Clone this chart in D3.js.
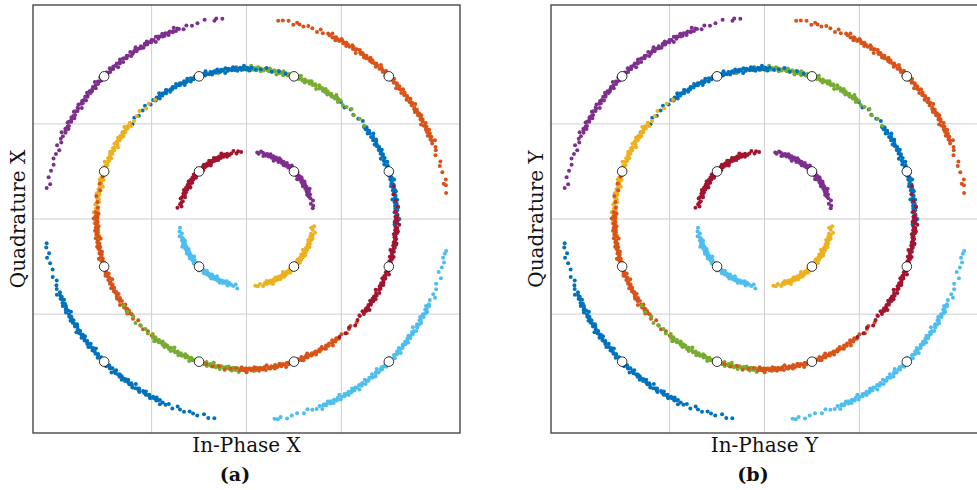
<!DOCTYPE html>
<html>
<head>
<meta charset="utf-8">
<script src="https://cdn.jsdelivr.net/npm/d3@7"></script>
<style>
  body { margin: 0; background: #fff; }
  svg { display: block; }
</style>
</head>
<body>
<svg id="fig" width="977" height="490"></svg>
<script>
// Ideal 16-QAM constellation points (in-phase, quadrature)
const symbolI = [-1.5, 1.5, -1.5, 1.5,  1.5, 0.5, -0.5, -1.5, -1.5, -0.5, 0.5, 1.5,  -0.5, 0.5, -0.5, 0.5];
const symbolQ = [ 1.5, 1.5, -1.5, -1.5,  0.5, 1.5, 1.5, 0.5, -0.5, -1.5, -1.5, -0.5,  0.5, 0.5, -0.5, -0.5];

// Phase error of every received sample, per transmitted symbol (tenths of a degree)
const phOuterNW = [-381,-364,-358,-331,-309,-292,-277,-266,
  -254,-250,-244,-241,-236,-234,-227,-223,-220,-214,-209,-205,-203,-197,-192,-189,-185,-178,-175,-170,-166,
  -162,-156,-153,-148,-146,-139,-135,-132,-126,-121,-117,-115,-109,-104,-101,-97,-90,-87,-82,-78,
  -74,-68,-65,-60,-58,-51,-47,-44,-38,-33,-29,-27,-21,-16,-13,-9,-2,1,6,10,
  14,20,23,28,30,37,41,44,50,55,59,61,67,72,75,79,86,89,94,98,
  102,108,111,116,118,125,129,132,138,143,147,149,155,160,163,167,174,177,182,186,190,196,199,
  208,217,226,238,249,262,276,293,312,331,350,362];
const phOuterNE = [-376,-354,-349,-338,-316,-297,-285,-264,-251,-242,
  -229,-224,-221,-217,-211,-209,-204,-200,-193,-190,-186,-181,-179,-173,-169,-166,-161,-155,-153,-149,-144,
  -139,-136,-132,-126,-124,-119,-115,-108,-105,-101,-96,-94,-88,-84,-81,-76,-70,-68,-64,-59,
  -54,-51,-47,-41,-39,-34,-30,-23,-20,-16,-11,-9,-3,1,4,9,15,17,21,26,
  31,34,38,44,46,51,55,62,65,69,74,76,82,86,89,94,100,102,106,111,
  116,119,123,129,131,136,140,147,150,154,159,161,167,171,174,179,185,187,191,196,201,206,212,
  226,236,243,259,272,285,297,305,314,330,346,359];
const phOuterSW = [-381,-369,-352,-340,-323,-304,-284,-271,-258,-248,
  -236,-233,-228,-222,-218,-216,-212,-205,-200,-197,-193,-187,-184,-179,-177,-172,-168,-162,-159,-155,-150,
  -147,-142,-136,-132,-130,-126,-119,-114,-111,-107,-101,-98,-93,-91,-86,-82,-76,-73,-69,-64,
  -61,-56,-50,-46,-44,-40,-33,-28,-25,-21,-15,-12,-7,-5,0,4,10,13,17,22,
  25,30,36,40,42,46,53,58,61,65,71,74,79,81,86,90,96,99,103,108,
  111,116,122,126,128,132,139,144,147,151,157,160,165,167,172,176,182,185,189,194,199,204,
  214,222,236,248,257,270,285,296,309,327,341,358];
const phOuterSE = [-370,-361,-352,-335,-320,-304,-285,-272,-259,-247,
  -236,-232,-226,-223,-218,-216,-209,-205,-202,-196,-191,-187,-185,-179,-174,-171,-167,-160,-157,-152,-148,
  -144,-138,-135,-130,-128,-121,-117,-114,-108,-103,-99,-97,-91,-86,-83,-79,-72,-69,-64,-60,
  -56,-50,-47,-42,-40,-33,-29,-26,-20,-15,-11,-9,-3,2,5,9,16,19,24,28,
  32,38,41,46,48,55,59,62,68,73,77,79,85,90,93,97,104,107,112,116,
  120,126,129,134,136,143,147,150,156,161,165,167,173,178,181,185,192,195,200,
  212,224,231,247,262,281,296,311,326,339,351,359];

const phMidA = [-350,-331,-308,-282,-264,-241,-223,
  -206,-200,-196,-189,-184,-181,-175,-167,-163,-158,-151,-145,-141,-134,-129,-126,-120,-112,-108,-103,-96,
  -90,-86,-79,-74,-71,-65,-57,-53,-48,-41,-35,-31,-24,-19,-16,-10,-2,2,7,14,
  20,24,31,36,39,45,53,57,62,69,75,79,86,91,94,100,108,112,117,124,
  130,134,141,146,149,155,163,167,172,179,185,189,196,
  216,234,258,279,302,326,344,366];
const phMidB = [-332,-301,-276,-253,-234,-218,
  -201,-196,-189,-185,-179,-176,-171,-163,-157,-153,-146,-141,-134,-130,-124,-121,-116,-108,-102,-98,-91,
  -86,-79,-75,-69,-66,-61,-53,-47,-43,-36,-31,-24,-20,-14,-11,-6,2,8,12,19,
  24,31,35,41,44,49,57,63,67,74,79,86,90,96,99,104,112,118,122,129,
  134,141,145,151,154,159,167,173,177,184,189,196,200,206,
  223,239,257,274,294,318];
const phMidC = [-335,-309,-282,-260,-239,-220,
  -204,-197,-194,-188,-183,-175,-171,-166,-160,-156,-149,-142,-139,-133,-128,-120,-116,-111,-105,-101,-94,
  -87,-84,-78,-73,-65,-61,-56,-50,-46,-39,-32,-29,-23,-18,-10,-6,-1,5,9,16,
  23,26,32,37,45,49,54,60,64,71,78,81,87,92,100,104,109,115,119,126,
  133,136,142,147,155,159,164,170,174,181,188,191,197,
  216,235,254,278,296,319,342,367];
const phMidD = [-340,-312,-293,-268,-246,-226,
  -210,-204,-200,-193,-188,-185,-179,-171,-167,-162,-155,-149,-145,-138,-133,-130,-124,-116,-112,-107,-100,
  -94,-90,-83,-78,-75,-69,-61,-57,-52,-45,-39,-35,-28,-23,-20,-14,-6,-2,3,10,
  16,20,27,32,35,41,49,53,58,65,71,75,82,87,90,96,104,108,113,120,
  126,130,137,142,145,151,159,163,168,175,181,185,192,197,200,206,214,
  230,248,266,283,294,316,338];
const phMidE = [-348,-320,-295,-271,-249,-228,
  -211,-206,-199,-195,-189,-186,-181,-173,-167,-163,-156,-151,-144,-140,-134,-131,-126,-118,-112,-108,-101,
  -96,-89,-85,-79,-76,-71,-63,-57,-53,-46,-41,-34,-30,-24,-21,-16,-8,-2,2,9,
  14,21,25,31,34,39,47,53,57,64,69,76,80,86,89,94,102,108,112,119,
  124,131,135,141,144,149,157,163,167,174,179,186,190,196,199,204,212,
  228,246,265,283,302,324,346];
const phMidF = [-364,-336,-309,-285,-263,-242,-224,
  -208,-201,-198,-192,-187,-179,-175,-170,-164,-160,-153,-146,-143,-137,-132,-124,-120,-115,-109,-105,-98,
  -91,-88,-82,-77,-69,-65,-60,-54,-50,-43,-36,-33,-27,-22,-14,-10,-5,1,5,12,
  19,22,28,33,41,45,50,56,60,67,74,77,83,88,96,100,105,111,115,122,
  129,132,138,143,151,155,160,166,170,177,184,187,193,
  212,230,251,272,296,320];
const phMidG = [-339,-314,-290,-267,-245,-226,
  -209,-203,-199,-192,-187,-184,-178,-170,-166,-161,-154,-148,-144,-137,-132,-129,-123,-115,-111,-106,-99,
  -93,-89,-82,-77,-74,-68,-60,-56,-51,-44,-38,-34,-27,-22,-19,-13,-5,-1,4,11,
  17,21,28,33,36,42,50,54,59,66,72,76,83,88,91,97,105,109,114,121,
  127,131,138,143,146,152,160,164,169,176,182,186,193,
  211,229,246,258,284,312];
const phMidH = [-333,-306,-281,-259,-238,-221,
  -205,-200,-193,-189,-183,-180,-175,-167,-161,-157,-150,-145,-138,-134,-128,-125,-120,-112,-106,-102,-95,
  -90,-83,-79,-73,-70,-65,-57,-51,-47,-40,-35,-28,-24,-18,-15,-10,-2,4,8,15,
  20,27,31,37,40,45,53,59,63,70,75,82,86,92,95,100,108,114,118,125,
  130,137,141,147,150,155,163,169,173,180,185,192,196,
  212,231,254,280,309];

const phInnerNW = [-404,-379,-363,-341,-318,-300,
  -284,-276,-265,-258,-248,-239,-227,-221,-212,-202,-194,-186,-175,-168,-158,-149,-137,-131,-122,-112,-104,
  -96,-85,-78,-68,-59,-47,-41,-32,-22,-14,-6,5,12,22,31,43,49,58,68,76,
  84,95,102,112,121,133,139,148,158,166,174,185,192,202,211,223,229,238,248,256,264,
  278,294,310,326,342,358];
const phInnerNE = [-358,-339,-316,-295,-271,
  -250,-240,-233,-224,-212,-204,-195,-184,-178,-168,-160,-150,-143,-134,-122,-114,-105,-94,-88,-78,-70,
  -60,-53,-44,-32,-24,-15,-4,2,12,20,30,37,46,58,66,75,86,92,102,110,
  120,127,136,148,156,165,176,182,192,200,210,217,226,238,246,255,266,272,282,290,300,310,
  328,344,358];
const phInnerSW = [-375,-345,-324,-306,-290,
  -274,-266,-255,-248,-238,-229,-217,-211,-202,-192,-184,-176,-165,-158,-148,-139,-127,-121,-112,-102,-94,
  -86,-75,-68,-58,-49,-37,-31,-22,-12,-4,4,15,22,32,41,53,59,68,78,86,
  94,105,112,122,131,143,149,158,168,176,184,195,202,212,221,233,239,248,258,266,274,285,292,300,
  316,339,356,374];
const phInnerSE = [-374,-355,-332,-310,
  -294,-284,-277,-268,-256,-248,-239,-228,-222,-212,-204,-194,-187,-178,-166,-158,-149,-138,-132,-122,-114,
  -104,-97,-88,-76,-68,-59,-48,-42,-32,-24,-14,-7,2,14,22,31,42,48,58,66,
  76,83,92,104,112,121,132,138,148,156,166,173,182,194,202,211,222,228,238,246,256,263,272,284,292,301,312,322,
  336,357,372,390];

// Amplitude noise of the n-th received sample (hundredths of a unit)
const ampNoise = [0,1,-1,2,0,-1,1,-2,0,1,-1,3,0,-1,1,0,-2,1,-1,2,
  -1,0,1,-1,2,-3,0,1,-1,0,2,-1,1,0,-2,1,-1,0,3,-1,
  1,0,-1,2,-2,0,1,-1,0,1,-2,2,0,-1,1,-3,0,1,-1,0,
  2,-1,0,1,-1,0,-2,1,2,-1,0,1,-1,3,0,-2,1,0,-1,1,
  -1,2,0,-1,1,-2,0,1,-1,0,2,-3,1,0,-1,1,2,-1,0,-2,
  1,0,-1,1,2,-1,0,-2,1,0,-1,3,0,1,-1,2,-2,0,1,-1,
  0,1,-2,1,0,-1,2,0,-1,1];

// one phase list per symbol, same order as symbolI / symbolQ
const symbolPhases = [phOuterNW, phOuterNE, phOuterSW, phOuterSE,
  phMidA, phMidB, phMidC, phMidD, phMidE, phMidF, phMidG, phMidH,
  phInnerNW, phInnerNE, phInnerSW, phInnerSE];

const gridValues = [-1, 0, 1];
const axisLimit = 2.25;
const xLabels = ["In-Phase X", "In-Phase Y"];
const yLabels = ["Quadrature X", "Quadrature Y"];
const captions = ["(a)", "(b)"];

// styling
const palette = {blue: "#0072BD", orange: "#D95319", yellow: "#EDB120", purple: "#7E2F8E",
                 green: "#77AC30", cyan: "#4DBEEE", red: "#A2142F"};
const symbolColor = [palette.purple, palette.orange, palette.blue, palette.cyan,
  palette.blue, palette.green, palette.blue, palette.yellow, palette.orange, palette.green, palette.orange, palette.red,
  palette.red, palette.purple, palette.cyan, palette.yellow];

const panelLayout = [{left: 33, top: 5, width: 427, height: 428},
                     {left: 551, top: 5, width: 427, height: 428}];

// received samples in the I/Q plane
const samplesBySymbol = symbolPhases.map((phases, k) => {
  const r0 = Math.hypot(symbolI[k], symbolQ[k]);
  const a0 = Math.atan2(symbolQ[k], symbolI[k]);
  return phases.map((p, n) => {
    const a = a0 + (p / 10) * Math.PI / 180;
    const r = r0 + ampNoise[n % ampNoise.length] / 100;
    return {i: r * Math.cos(a), q: r * Math.sin(a)};
  });
});

const svg = d3.select("#fig");
const font = "'DejaVu Serif', serif";

panelLayout.forEach((p, idx) => {
  const x = d3.scaleLinear().domain([-axisLimit, axisLimit]).range([p.left, p.left + p.width]);
  const y = d3.scaleLinear().domain([-axisLimit, axisLimit]).range([p.top + p.height, p.top]);
  const g = svg.append("g");

  const clipId = "clip" + idx;
  g.append("clipPath").attr("id", clipId).append("rect")
    .attr("x", p.left).attr("y", p.top).attr("width", p.width).attr("height", p.height);
  const plot = g.append("g").attr("clip-path", `url(#${clipId})`);

  // grid
  plot.selectAll(".gx").data(gridValues).enter().append("line")
    .attr("x1", d => x(d)).attr("x2", d => x(d))
    .attr("y1", p.top).attr("y2", p.top + p.height)
    .attr("stroke", "#cfcfcf").attr("stroke-width", 1);
  plot.selectAll(".gy").data(gridValues).enter().append("line")
    .attr("y1", d => y(d)).attr("y2", d => y(d))
    .attr("x1", p.left).attr("x2", p.left + p.width)
    .attr("stroke", "#cfcfcf").attr("stroke-width", 1);

  // received samples
  samplesBySymbol.forEach((pts, k) => {
    plot.append("g").selectAll("circle").data(pts).enter().append("circle")
      .attr("cx", d => x(d.i)).attr("cy", d => y(d.q))
      .attr("r", 2.0).attr("fill", symbolColor[k]);
  });

  // ideal constellation points
  plot.append("g").selectAll("circle").data(symbolI.map((v, k) => ({i: v, q: symbolQ[k]})))
    .enter().append("circle")
    .attr("cx", d => x(d.i)).attr("cy", d => y(d.q))
    .attr("r", 4.8).attr("fill", "#fff").attr("stroke", "#000").attr("stroke-width", 0.8);

  // frame
  g.append("rect").attr("x", p.left).attr("y", p.top)
    .attr("width", p.width).attr("height", p.height)
    .attr("fill", "none").attr("stroke", "#3a3a3a").attr("stroke-width", 1.3);

  // labels
  const cx = p.left + p.width / 2;
  g.append("text").attr("x", cx).attr("y", 452)
    .attr("text-anchor", "middle").attr("font-family", font).attr("font-size", 20)
    .attr("fill", "#111").text(xLabels[idx]);
  g.append("text").attr("transform", `translate(${p.left - 8},${p.top + p.height / 2}) rotate(-90)`)
    .attr("text-anchor", "middle").attr("font-family", font).attr("font-size", 20)
    .attr("fill", "#111").text(yLabels[idx]);
  g.append("text").attr("x", cx - 11.5).attr("y", 481)
    .attr("text-anchor", "middle").attr("font-family", font).attr("font-size", 19)
    .attr("font-weight", "bold").attr("fill", "#111").text(captions[idx]);
});
</script>
</body>
</html>
